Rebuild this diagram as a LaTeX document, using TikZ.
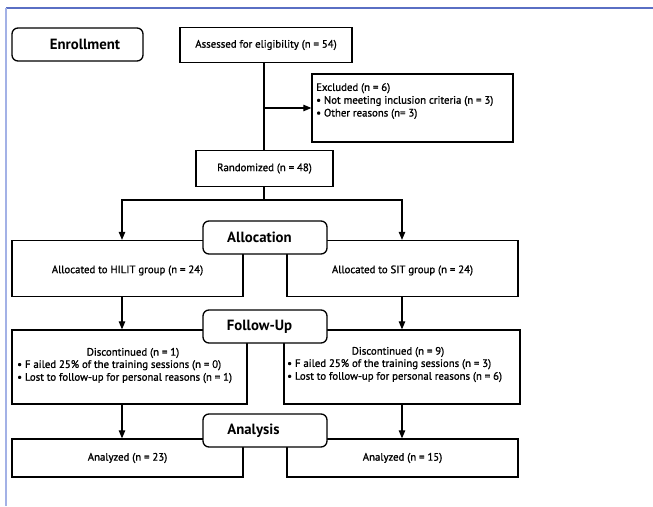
\documentclass[tikz,border=0pt]{standalone}
\usepackage{fontspec}
\setmainfont{PT Sans}
\newfontfamily\bodyfont[FakeBold=1.1]{PT Sans}
\usetikzlibrary{arrows.meta}
\definecolor{frameA}{HTML}{5A6FC4}
\definecolor{frameB}{HTML}{A3B1E6}
\begin{document}
\begin{tikzpicture}[x=1pt,y=-1pt,
  box/.style={draw=black,line width=1.3pt,fill=white,inner sep=0pt},
  stage/.style={box,rounded corners=6pt,font=\bfseries\fontsize{14.8}{16}\selectfont},
  body/.style={font=\bodyfont\fontsize{10.8}{12.8}\selectfont,inner sep=0pt},
  arr/.style={line width=1.1pt,-{Triangle[length=8pt,width=6.5pt]}},
  ln/.style={line width=1.1pt}]
\useasboundingbox (0,0) rectangle (653,506);
\draw[frameA,line width=1.5pt] (6,8) -- (653,8);
\draw[frameB,line width=1.5pt] (6,8) -- (6,506);
% column coordinates
\coordinate (V) at (264,0);
\coordinate (L) at (122,0);
\coordinate (R) at (402,0);
% enrollment
\node[stage,minimum width=131pt,minimum height=33pt] (enroll) at (77.5,44.5) {\hspace*{15pt}Enrollment};
\node[box,body,minimum width=172pt,minimum height=35pt] (assess) at (266,45) {Assessed for eligibility (n = 54)};
\node[box,minimum width=201pt,minimum height=68pt] (excl) at (412.5,108) {};
\node[body,anchor=north west,align=left] (exclt) at (316,83) {Excluded (n = 6)\\• Not meeting inclusion criteria (n = 3)\\• Other reasons (n= 3)};
\node[box,body,minimum width=137pt,minimum height=36pt] (rand) at (264.5,168.5) {Randomized (n = 48)};
\draw[ln] (assess.south -| V) -- (rand.north -| V);
\draw[arr] (V |- excl.west) -- (excl.west);
% split
\coordinate (S) at (264,200);
\draw[ln] (rand.south -| V) -- (S);
% allocation
\node[box,minimum width=231pt,minimum height=56pt,label={[body,yshift=-2pt]center:Allocated to HILIT group (n = 24)}] (hilit) at (127.5,268.5) {};
\node[box,minimum width=231pt,minimum height=56pt,label={[body,yshift=-2pt]center:Allocated to SIT group (n = 24)}] (sit) at (402.5,268.5) {};
\node[stage,minimum width=124pt,minimum height=33pt] (alloc) at (265,237.5) {Allocation\hspace*{11pt}};
\draw[arr] (S) -| (hilit.north -| L);
\draw[arr] (S) -| (sit.north -| R);
% follow-up
\node[box,minimum width=235pt,minimum height=74pt] (discL) at (129.5,367) {};
\node[box,minimum width=236pt,minimum height=74pt] (discR) at (402,367) {};
\node[stage,minimum width=124pt,minimum height=33pt] (follow) at (265,326.5) {Follow-Up\hspace*{11pt}};
\node[body] (discLt) at (133,353) {Discontinued (n = 1)};
\node[body,anchor=north west,align=left] (discLb) at (17,360) {• F ailed 25\% of the training sessions (n = 0)\\• Lost to follow-up for personal reasons (n = 1)};
\node[body] (discRt) at (398,352) {Discontinued (n = 9)};
\node[body,anchor=north west,align=left] (discRb) at (287,359) {• F ailed 25\% of the training sessions (n = 3)\\• Lost to follow-up for personal reasons (n = 6)};
\draw[arr] (hilit.south -| L) -- (discL.north -| L);
\draw[arr] (sit.south -| R) -- (discR.north -| R);
% analysis
\node[box,body,minimum width=231pt,minimum height=38pt] (anL) at (127.5,458) {Analyzed (n = 23)};
\node[box,body,minimum width=231pt,minimum height=38pt] (anR) at (402.5,458) {Analyzed (n = 15)};
\node[stage,minimum width=124pt,minimum height=33pt] (analysis) at (265,430.5) {Analysis\hspace*{23pt}};
\draw[arr] (discL.south -| L) -- (anL.north -| L);
\draw[arr] (discR.south -| R) -- (anR.north -| R);
\end{tikzpicture}
\end{document}
